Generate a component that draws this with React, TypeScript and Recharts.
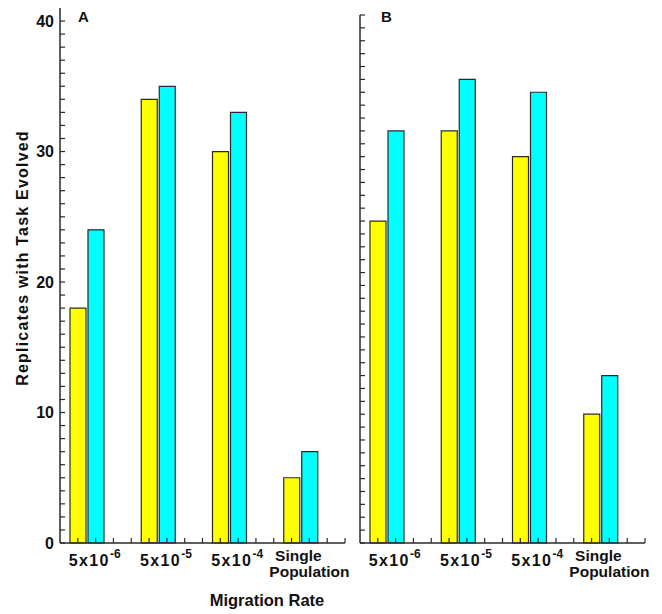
import { BarChart, Bar, XAxis, YAxis } from "recharts";

const categories = ["5x10^-6", "5x10^-5", "5x10^-4", "Single Population"];

// panel A
const aYellow = [18, 34, 30, 5];
const aCyan = [24, 35, 33, 7];
// panel B
const bYellow = [25, 32, 30, 10];
const bCyan = [32, 36, 35, 13];

const yLabels = [0, 10, 20, 30, 40];

const FONT = "'Liberation Sans', Arial, sans-serif";
const INK = "#2a2a2a";
const YELLOW = "#ffff00";
const CYAN = "#00ffff";

const unitTicks = (max: number) => Array.from({ length: max + 1 }, (_, i) => i);
const quarterSteps = Array.from({ length: categories.length * 4 }, (_, i) => i + 1);

const buildRows = (yellow: number[], cyan: number[]) =>
  categories.map((c, i) => ({ name: c, yellow: yellow[i], cyan: cyan[i] }));

function CategoryTick(props: any) {
  const { x, y, payload } = props;
  const label: string = payload.value;
  if (label.includes("^")) {
    const [base, exp] = label.split("^");
    return (
      <text x={x - 1} y={y + 23} textAnchor="middle" fontFamily={FONT} fontWeight="bold" fill="#111">
        <tspan fontSize={16} letterSpacing={1.4}>{base}</tspan>
        <tspan fontSize={12} dy={-8}>{exp}</tspan>
      </text>
    );
  }
  const [l1, l2] = label.split(" ");
  return (
    <g>
      <text x={x - 11} y={y + 18} textAnchor="middle" fontFamily={FONT} fontWeight="bold" fontSize={15.5} fill="#111">
        {l1}
      </text>
      <text x={x} y={y + 34} textAnchor="middle" fontFamily={FONT} fontWeight="bold" fontSize={15.5} fill="#111">
        {l2}
      </text>
    </g>
  );
}

// inward ticks on the category axis, every quarter of a category band
function MinorXTicks(props: any) {
  const vb = props.viewBox || {};
  if (vb.width == null) return null;
  const step = vb.width / quarterSteps.length;
  return (
    <g>
      {quarterSteps.map((k) => (
        <line
          key={k}
          x1={vb.x + k * step}
          x2={vb.x + k * step}
          y1={vb.y}
          y2={vb.y - 5}
          stroke={INK}
          strokeWidth={1.2}
        />
      ))}
    </g>
  );
}

function makeYTick(showLabels: boolean) {
  return (props: any) => {
    const { x, y, payload } = props;
    const v = payload.value;
    return (
      <g>
        <path d={`M${x},${y}H${x + 5}`} stroke={INK} strokeWidth={1.2} fill="none" />
        {showLabels && yLabels.includes(v) && (
          <text x={x - 6} y={y} dy="0.36em" textAnchor="end" fontFamily={FONT} fontWeight="bold" fontSize={16} fill="#111">
            {v}
          </text>
        )}
      </g>
    );
  };
}

function Panel({
  rows,
  width,
  top,
  right,
  yWidth,
  maxTick,
  showLabels,
}: {
  rows: any[];
  width: number;
  top: number;
  right: number;
  yWidth: number;
  maxTick: number;
  showLabels: boolean;
}) {
  return (
    <BarChart
      width={width}
      height={614}
      data={rows}
      margin={{ top, right, bottom: 0, left: 0 }}
      barGap={2}
    >
      <XAxis
        dataKey="name"
        height={71}
        axisLine={{ stroke: INK, strokeWidth: 1.5 }}
        tickLine={false}
        tickSize={0}
        tickMargin={0}
        tick={<CategoryTick />}
        interval={0}
        label={{ content: (p: any) => <MinorXTicks {...p} /> }}
      />
      <YAxis
        width={yWidth}
        domain={[0, 41]}
        ticks={unitTicks(maxTick)}
        interval={0}
        axisLine={{ stroke: INK, strokeWidth: 1.5 }}
        tickLine={false}
        tickSize={0}
        tickMargin={0}
        tick={makeYTick(showLabels)}
      />
      <Bar dataKey="yellow" fill={YELLOW} stroke={INK} strokeWidth={1.2} barSize={16} isAnimationActive={false} />
      <Bar dataKey="cyan" fill={CYAN} stroke={INK} strokeWidth={1.2} barSize={16} isAnimationActive={false} />
      <Bar dataKey="spacer" fill="none" barSize={16} legendType="none" isAnimationActive={false} />
    </BarChart>
  );
}

const textStyle = {
  position: "absolute" as const,
  fontFamily: FONT,
  fontWeight: "bold" as const,
  color: "#111",
  whiteSpace: "nowrap" as const,
  lineHeight: 1,
};

export default function App() {
  return (
    <div style={{ position: "absolute", left: 0, top: 0, width: 662, height: 614, background: "#fff" }}>
      <div style={{ position: "absolute", left: 0, top: 0 }}>
        <Panel rows={buildRows(aYellow, aCyan)} width={350} top={8} right={5} yWidth={60} maxTick={40} showLabels />
      </div>
      <div style={{ position: "absolute", left: 350, top: 0 }}>
        <Panel rows={buildRows(bYellow, bCyan)} width={312} top={15} right={17} yWidth={10} maxTick={41} showLabels={false} />
      </div>
      <div style={{ ...textStyle, left: 78, top: 9, fontSize: 15 }}>A</div>
      <div style={{ ...textStyle, left: 381, top: 9, fontSize: 15 }}>B</div>
      <div
        style={{
          ...textStyle,
          left: 23,
          top: 258,
          fontSize: 16,
          letterSpacing: 1.2,
          transform: "translate(-50%, -50%) rotate(-90deg)",
        }}
      >
        Replicates with Task Evolved
      </div>
      <div style={{ ...textStyle, left: 267, top: 600, fontSize: 16.5, transform: "translate(-50%, -50%)" }}>
        Migration Rate
      </div>
    </div>
  );
}
